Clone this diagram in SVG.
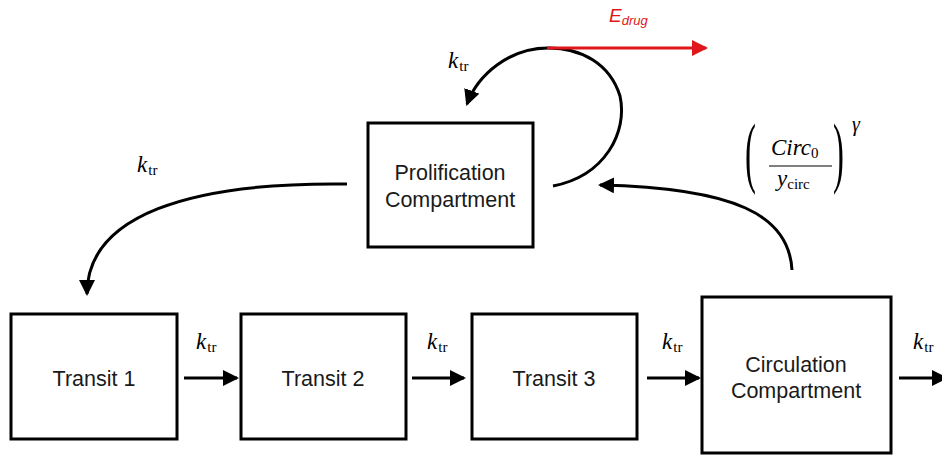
<svg xmlns="http://www.w3.org/2000/svg" width="942" height="456" viewBox="0 0 942 456">
<style>
.box{fill:#fff;stroke:#000;stroke-width:3}
.lbl{font-family:"Liberation Sans",Arial,sans-serif;font-size:21.5px;fill:#1a1a1a;text-anchor:middle}
.m{font-family:"Liberation Serif","Times New Roman",serif;font-size:23px;fill:#000}
.mi{font-style:italic}
.sub{font-size:15px;font-style:normal}
.par{font-family:"Liberation Serif","Times New Roman",serif;font-size:78px;fill:#000}
.gam{font-family:"Liberation Serif","Times New Roman",serif;font-size:20px;font-style:italic;fill:#000}
.con{fill:none;stroke:#000;stroke-width:3}
</style>
<defs>
<marker id="ah" viewBox="0 0 16 16" refX="14" refY="8" markerWidth="16" markerHeight="16" markerUnits="userSpaceOnUse" orient="auto">
<path d="M0,0 L16,8 L0,16 z" fill="#000"/>
</marker>
<marker id="ahr" viewBox="0 0 16 16" refX="14" refY="8" markerWidth="16" markerHeight="16" markerUnits="userSpaceOnUse" orient="auto">
<path d="M0,0 L16,8 L0,16 z" fill="#e0161b"/>
</marker>
</defs>

<g id="connectors">
<path class="con" d="M553,186 C605,176 628,132 620,96 C610,64 582,48 548,48 C510,48 478,74 467,104" marker-end="url(#ah)"/>
<line x1="547" y1="48" x2="706" y2="48" stroke="#e0161b" stroke-width="3" marker-end="url(#ahr)"/>
<path class="con" d="M347,184 C190,182 87,215 87,294" marker-end="url(#ah)"/>
<path class="con" d="M792,270 C789,215 735,188 600,185" marker-end="url(#ah)"/>
<line class="con" x1="184" y1="378" x2="237" y2="378" marker-end="url(#ah)"/>
<line class="con" x1="412" y1="378" x2="464" y2="378" marker-end="url(#ah)"/>
<line class="con" x1="647" y1="378" x2="699" y2="378" marker-end="url(#ah)"/>
<line class="con" x1="899" y1="378" x2="946" y2="378" marker-end="url(#ah)"/>
</g>

<g id="labels">
<text class="m" x="137" y="172"><tspan class="mi">k</tspan><tspan class="sub" dx="1" dy="3">tr</tspan></text>
<text class="m" x="448" y="68"><tspan class="mi">k</tspan><tspan class="sub" dx="1" dy="3">tr</tspan></text>
<text class="m" x="196" y="349"><tspan class="mi">k</tspan><tspan class="sub" dx="1" dy="3">tr</tspan></text>
<text class="m" x="427" y="349"><tspan class="mi">k</tspan><tspan class="sub" dx="1" dy="3">tr</tspan></text>
<text class="m" x="662" y="349"><tspan class="mi">k</tspan><tspan class="sub" dx="1" dy="3">tr</tspan></text>
<text class="m" x="913" y="349"><tspan class="mi">k</tspan><tspan class="sub" dx="1" dy="3">tr</tspan></text>
<text font-family="Liberation Sans,Arial,sans-serif" font-style="italic" fill="#e0161b" x="609" y="22" font-size="19">E<tspan font-size="13" dy="3">drug</tspan></text>
<g id="formula">
<text class="par" transform="translate(745,178) scale(0.42,1)">(</text>
<text class="m mi" x="771" y="155">Circ<tspan class="sub" dy="3">0</tspan></text>
<line x1="769" y1="166" x2="832" y2="166" stroke="#000" stroke-width="1.2"/>
<text class="m mi" x="777" y="186">y<tspan class="sub" dy="3">circ</tspan></text>
<text class="par" transform="translate(833,178) scale(0.42,1)">)</text>
<text class="gam" x="852" y="131">γ</text>
</g>
</g>

<g id="prolif"><rect class="box" x="368" y="123" width="165" height="124"/><text class="lbl" x="450" y="180">Prolification</text><text class="lbl" x="450" y="207">Compartment</text></g>
<g id="transit1"><rect class="box" x="11" y="314" width="166" height="125"/><text class="lbl" x="94" y="386">Transit 1</text></g>
<g id="transit2"><rect class="box" x="241" y="314" width="165" height="125"/><text class="lbl" x="323" y="386">Transit 2</text></g>
<g id="transit3"><rect class="box" x="472" y="314" width="165" height="125"/><text class="lbl" x="554" y="386">Transit 3</text></g>
<g id="circulation"><rect class="box" x="702" y="297" width="189" height="156"/><text class="lbl" x="796" y="372">Circulation</text><text class="lbl" x="796" y="398">Compartment</text></g>
</svg>
